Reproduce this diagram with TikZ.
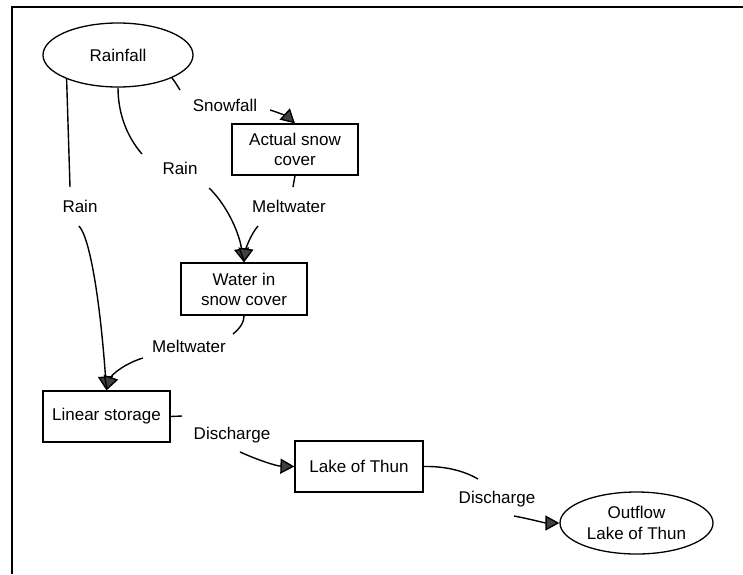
\documentclass[tikz,border=0pt]{standalone}
\usepackage{fontspec}
\setmainfont{Liberation Sans}
\usetikzlibrary{arrows.meta,shapes.geometric}
\begin{document}
\begin{tikzpicture}[x=1pt,y=-1pt,
  font=\fontsize{17}{20}\selectfont,
  box/.style={draw,line width=1.2pt,inner sep=0pt,align=center},
  oval/.style={draw,ellipse,line width=1.3pt,inner sep=0pt,align=center},
  flow/.style={line width=1.4pt},
  tip/.style={-{Triangle[length=14pt,width=15pt,fill=black!75]}},
  lab/.style={anchor=base,inner sep=0pt},
  frame/.style={line width=1.2pt}]
\useasboundingbox (0,0) rectangle (743,574);
% frame
\coordinate (ftr) at (743,7);
\coordinate (ftl) at (12,7);
\coordinate (fbl) at (12,574);
\draw[frame] (ftr) -- (ftl) -- (fbl);
% nodes
\node[oval,minimum width=150pt,minimum height=64pt] (rain) at (118,55) {Rainfall};
\node[box,minimum width=126pt,minimum height=51pt] (act) at (295,149.5) {Actual snow\\cover};
\node[box,minimum width=126pt,minimum height=52pt] (wat) at (244,289) {Water in\\snow cover};
\node[box,minimum width=127pt,minimum height=51pt] (lin) at (106.5,416.5) {Linear storage};
\node[box,minimum width=128pt,minimum height=51pt] (lake) at (359,466.5) {Lake of Thun};
\node[oval,minimum width=153pt,minimum height=62pt,font=\fontsize{17}{21}\selectfont] (out) at (636.5,523) {Outflow\\Lake of Thun};
% labels
\node[lab] (lrain1) at (80,212) {Rain};
\node[lab] (lrain2) at (180,174) {Rain};
\node[lab] (lsnow) at (225,111) {Snowfall};
\node[lab] (lmelt1) at (289,212) {Meltwater};
\node[lab] (lmelt2) at (189,352) {Meltwater};
\node[lab] (ldis1) at (232,439) {Discharge};
\node[lab] (ldis2) at (497,503) {Discharge};
% connector break points
\coordinate (r1a) at (70,187);
\coordinate (r1b) at (79,226);
\coordinate (r2a) at (142,154);
\coordinate (r2b) at (209,188);
\coordinate (s1a) at (180,90);
\coordinate (s1b) at (270,110);
\coordinate (m1a) at (293,187);
\coordinate (m1b) at (258,226);
\coordinate (m2a) at (233,334);
\coordinate (m2b) at (143,358);
\coordinate (d1a) at (182,416);
\coordinate (d1b) at (240,452);
\coordinate (d2a) at (478,479);
\coordinate (d2b) at (514,516);
% connectors
\draw[flow] (rain.205) -- (r1a);
\draw[flow,tip] (r1b) .. controls (90,238) and (100,300) .. (lin.north);
\draw[flow] (rain.270) .. controls (118,115) and (128,138) .. (r2a);
\draw[flow,tip] (r2b) .. controls (224,202) and (238,228) .. (wat.north);
\draw[flow] (rain.337) .. controls (176,83) and (178,87) .. (s1a);
\draw[flow,tip] (s1b) .. controls (280,113) and (288,117) .. (act.north);
\draw[flow] (act.south) -- (m1a);
\draw[flow,tip] (m1b) .. controls (251,234) and (246,248) .. (wat.north);
\draw[flow] (wat.south) .. controls (244,324) and (238,330) .. (m2a);
\draw[flow,tip] (m2b) .. controls (126,363) and (112,374) .. (lin.north);
\draw[flow] (lin.east) -- (d1a);
\draw[flow,tip] (d1b) .. controls (258,460) and (276,466) .. (lake.west);
\draw[flow] (lake.east) .. controls (448,466) and (466,472) .. (d2a);
\draw[flow,tip] (d2b) .. controls (530,519) and (545,523) .. (out.west);
\end{tikzpicture}
\end{document}
